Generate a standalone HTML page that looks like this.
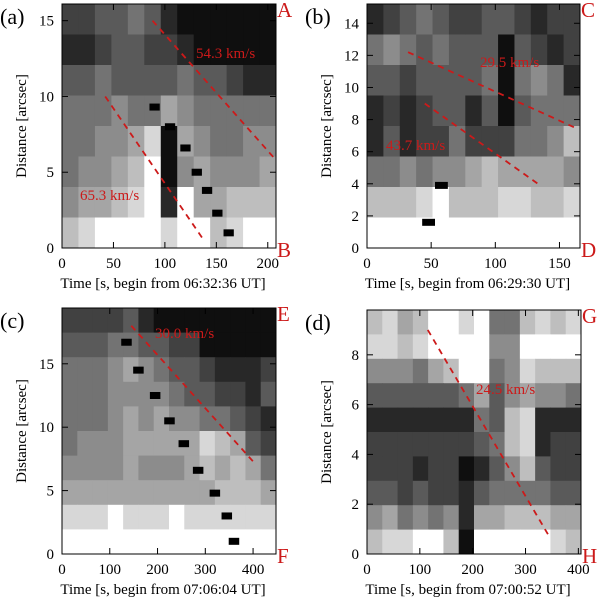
<!DOCTYPE html>
<html><head><meta charset="utf-8"><style>
body{margin:0;background:#fff}
svg text{font-family:"Liberation Serif",serif}
</style></head><body>
<svg id="fig" width="600" height="600" xmlns="http://www.w3.org/2000/svg"></svg>
<script>
const NS="http://www.w3.org/2000/svg";
// ---- panel data ----
const gridA=["2233431000000","1123322100000","3343333433211","4445446544444","4455680654455","4556790565556","5667891966777","7899998997899"];
const gridB=["1234322332122","4543433303212","3323333404541","1212331303444","1312242224457","4454556766665","7778977788778","9999999999999"];
const gridC=["22223100000000","33344332200000","44456543321112","44455554332213","44456565544321","45556666687632","55556555676764","66666666667776","88898889888888","99999999999999"];
const gridD=["78679989447878","88789999559999","55546799458777","33333346356554","11111114378111","22222223478122","22212201357322","33232213444433","56454516677766","78899709999987"];
const blobsAx=[90,105,120,131,141,151,162], blobsAy=[9.3,8,6.6,5,3.8,2.3,1];
const blobsBx=[58,48], blobsBy=[3.9,1.6];
const blobsCx=[135,160,195,225,255,285,320,345,360], blobsCy=[16.7,14.5,12.5,10.5,8.7,6.6,4.8,3,1];
const blobsDx=[], blobsDy=[];
const ticksAx=[0,50,100,150,200], ticksAy=[0,5,10,15];
const ticksBx=[0,50,100,150], ticksBy=[0,2,4,6,8,10,12,14];
const ticksCx=[0,100,200,300,400], ticksCy=[0,5,10,15];
const ticksDx=[0,100,200,300,400], ticksDy=[0,2,4,6,8];
const linesA=[[42,10,138,0.5],[88,15,208,5.8]];
const linesB=[[32,12.2,162,7.5],[45,9,135,3.9]];
const linesC=[[145,18,400,7.3]];
const linesD=[[115,9,345,0.7]];
const speedsA=["54.3 km/s","65.3 km/s"], speedsB=["29.5 km/s","43.7 km/s"], speedsC=["30.0 km/s"], speedsD=["24.5 km/s"];

const panels=[
 {id:"a",x0:62,x1:276,y0:4,y1:248,xmax:208,ymax:16.1,grid:gridA,bx:blobsAx,by:blobsAy,tx:ticksAx,ty:ticksAy,lines:linesA,sp:speedsA,spPos:[[196,58],[80,200]],corner:["A","B"],time:"06:32:36",bw:10},
 {id:"b",x0:367,x1:580,y0:4,y1:248,xmax:166,ymax:15.2,grid:gridB,bx:blobsBx,by:blobsBy,tx:ticksBx,ty:ticksBy,lines:linesB,sp:speedsB,spPos:[[480,67],[386,150]],corner:["C","D"],time:"06:29:30",bw:10},
 {id:"c",x0:62,x1:276,y0:308,y1:554,xmax:448,ymax:19.4,grid:gridC,bx:blobsCx,by:blobsCy,tx:ticksCx,ty:ticksCy,lines:linesC,sp:speedsC,spPos:[[155,338]],corner:["E","F"],time:"07:06:04",bw:22},
 {id:"d",x0:367,x1:581,y0:310,y1:554,xmax:405,ymax:9.8,grid:gridD,bx:blobsDx,by:blobsDy,tx:ticksDx,ty:ticksDy,lines:linesD,sp:speedsD,spPos:[[476,394]],corner:["G","H"],time:"07:00:52",bw:20}
];
const svg=document.getElementById("fig");
function mk(tag,attrs,parent){const e=document.createElementNS(NS,tag);for(const k in attrs)e.setAttribute(k,attrs[k]);(parent||svg).appendChild(e);return e;}
panels.forEach(p=>{
 const g=mk("g",{});
 
 
 const sx=v=>p.x0+(p.x1-p.x0)*v/p.xmax;
 const sy=v=>p.y1-(p.y1-p.y0)*v/p.ymax;
 const rows=p.grid.length, cols=p.grid[0].length;
 const cw=(p.x1-p.x0)/cols, ch=(p.y1-p.y0)/rows;
 p.grid.forEach((row,r)=>{[...row].forEach((c,i)=>{
   const n=parseInt(c);
   const v=n>=9?255:Math.round(15+n*25);
   const rc=mk("rect",{x:p.x0+i*cw,y:p.y0+r*ch,width:cw+0.5,height:ch+0.5,fill:`rgb(${v},${v},${v})`},g);
   
   
 });});
 p.bx.forEach((bx,i)=>{
   const b=mk("rect",{x:sx(bx)-p.bw/2*(p.x1-p.x0)/p.xmax,y:sy(p.by[i])-3.5,width:p.bw*(p.x1-p.x0)/p.xmax,height:7,fill:"#000"},g);
   
   
 });
 p.lines.forEach(l=>{
   const ln=mk("line",{x1:sx(l[0]),y1:sy(l[1]),x2:sx(l[2]),y2:sy(l[3]),stroke:"#cc1a1a","stroke-width":1.8,"stroke-dasharray":"6,5"},g);
   
   
 });
 p.sp.forEach((s,i)=>{
   const t=mk("text",{x:p.spPos[i][0],y:p.spPos[i][1],fill:"#cc1a1a","font-size":15},g);t.textContent=s;
   
   
 });
 const fr=mk("rect",{x:p.x0,y:p.y0,width:p.x1-p.x0,height:p.y1-p.y0,fill:"none",stroke:"#000","stroke-width":1},g);
 
 
 p.tx.forEach(v=>{
   mk("line",{x1:sx(v),x2:sx(v),y1:p.y1,y2:p.y1-6,stroke:"#000"},g);
   mk("line",{x1:sx(v),x2:sx(v),y1:p.y0,y2:p.y0+6,stroke:"#000"},g);
   const t=mk("text",{x:sx(v),y:p.y1+20,"text-anchor":"middle","font-size":15},g);t.textContent=v;
   
   
 });
 p.ty.forEach(v=>{
   mk("line",{x1:p.x0,x2:p.x0+6,y1:sy(v),y2:sy(v),stroke:"#000"},g);
   mk("line",{x1:p.x1,x2:p.x1-6,y1:sy(v),y2:sy(v),stroke:"#000"},g);
   const t=mk("text",{x:p.x0-8,y:sy(v)+5,"text-anchor":"end","font-size":15},g);t.textContent=v;
   
   
 });
 const xt=mk("text",{x:(p.x0+p.x1)/2-6,y:p.y1+40,"text-anchor":"middle","font-size":15},g);
 xt.textContent="Time [s, begin from "+p.time+" UT]";
 
 
 const cy=(p.y0+p.y1)/2, cx=p.x0-36;
 const yt=mk("text",{x:cx,y:cy,"text-anchor":"middle","font-size":15,transform:`rotate(-90 ${cx} ${cy})`},g);
 yt.textContent="Distance [arcsec]";
 
 
 const pl=mk("text",{x:p.x0-62,y:p.y0+20,"font-size":22},g);pl.textContent="("+p.id+")";
 
 
 const c1=mk("text",{x:p.x1+1,y:p.y0+13,"font-size":21,fill:"#cc1a1a"},g);c1.textContent=p.corner[0];
 
 
 const c2=mk("text",{x:p.x1+1,y:p.y1+9,"font-size":21,fill:"#cc1a1a"},g);c2.textContent=p.corner[1];
 
 
});
</script>
</body></html>
